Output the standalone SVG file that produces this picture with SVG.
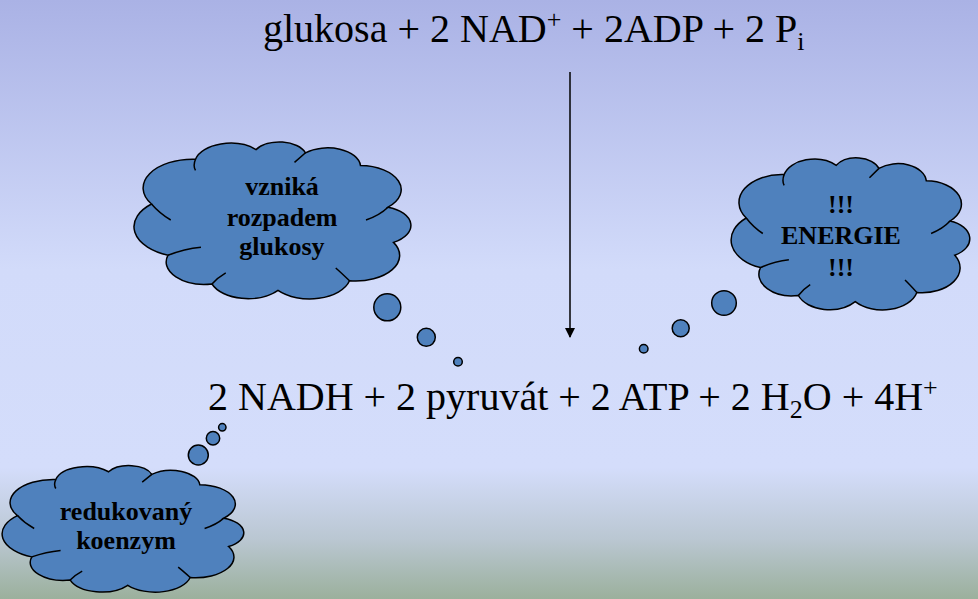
<svg xmlns="http://www.w3.org/2000/svg" xmlns:xlink="http://www.w3.org/1999/xlink" width="978" height="599" viewBox="0 0 978 599">
<defs>
<linearGradient id="bg" x1="0" y1="0" x2="0" y2="1">
<stop offset="0" stop-color="#aab2e5"/>
<stop offset="0.45" stop-color="#d2dbfa"/>
<stop offset="0.78" stop-color="#d4ddfb"/>
<stop offset="0.9" stop-color="#bac7d2"/>
<stop offset="1" stop-color="#9bb09c"/>
</linearGradient>
<marker id="arr" markerWidth="10" markerHeight="10" refX="9" refY="5" orient="auto" markerUnits="userSpaceOnUse">
<path d="M0,0 L10,5 L0,10 Z" fill="#000"/>
</marker>
<g id="cloud">
<path class="cl" d="M6,40 A18,18 0 0 1 22,12 A13,13 0 0 1 44,6 A10,10 0 0 1 62,8 A12,12 0 0 1 82,16 A15,15 0 0 1 92,42 A12,12 0 0 1 94,64 A16,16 0 0 1 78,88 A15,15 0 0 1 52,94 A14,14 0 0 1 28,90 A14,14 0 0 1 12,72 A19,19 0 0 1 6,40 Z"/>
<path class="cli" d="M6,40 Q9,46 13,50 M22,12 Q21,16 22,19 M62,8 Q60,11 58,14 M92,42 Q89,47 84,50 M78,88 Q75,83 73,80 M28,90 Q30,86 33,83 M12,72 Q18,68 24,67"/>
</g>
<style>
.cl{fill:#4f81bd;stroke:#000;stroke-width:1.5;vector-effect:non-scaling-stroke}
.cli{fill:none;stroke:#000;stroke-width:1.5;vector-effect:non-scaling-stroke}
.bub{fill:#4f81bd;stroke:#000;stroke-width:1.5}
.eq{font-family:'Liberation Serif',serif;font-size:40px;fill:#000}
.ct{font-family:'Liberation Serif',serif;font-size:26px;font-weight:bold;fill:#000;text-anchor:middle}
</style>
</defs>
<rect width="978" height="599" fill="url(#bg)"/>
<g id="connectors">
<line x1="570" y1="72" x2="570" y2="337" stroke="#000" stroke-width="1.5" marker-end="url(#arr)"/>
</g>
<g id="eq-top">
<text class="eq" x="263" y="42">glukosa + 2 NAD<tspan font-size="26" dy="-14">+</tspan><tspan dy="14"> + 2ADP + 2 P</tspan><tspan font-size="26" dy="8">i</tspan></text>
</g>
<g id="eq-bottom">
<text class="eq" x="208" y="410">2 NADH + 2 pyruvát + 2 ATP + 2 H<tspan font-size="26" dy="8">2</tspan><tspan dy="-8">O + 4H</tspan><tspan font-size="26" dy="-14">+</tspan></text>
</g>
<g id="cloud1">
<use xlink:href="#cloud" transform="translate(135,140) scale(2.75,1.6)"/>
<circle class="bub" cx="387.3" cy="307.3" r="13.5"/>
<circle class="bub" cx="426.3" cy="337.3" r="9"/>
<circle class="bub" cx="458" cy="361.7" r="4.3"/>
<text class="ct" x="282" y="195">vzniká</text>
<text class="ct" x="282" y="226">rozpadem</text>
<text class="ct" x="282" y="255">glukosy</text>
</g>
<g id="cloud2">
<use xlink:href="#cloud" transform="translate(732,156) scale(2.37,1.55)"/>
<circle class="bub" cx="724" cy="303" r="12.3"/>
<circle class="bub" cx="680.7" cy="328.3" r="8.5"/>
<circle class="bub" cx="643.7" cy="348.7" r="4.3"/>
<text class="ct" x="841" y="213">!!!</text>
<text class="ct" x="841" y="244">ENERGIE</text>
<text class="ct" x="841" y="276">!!!</text>
</g>
<g id="cloud3">
<use xlink:href="#cloud" transform="translate(3,464) scale(2.4,1.29)"/>
<circle class="bub" cx="198.3" cy="455" r="10"/>
<circle class="bub" cx="213" cy="438.3" r="6.7"/>
<circle class="bub" cx="222.3" cy="427.3" r="3.7"/>
<text class="ct" x="126" y="520">redukovaný</text>
<text class="ct" x="126" y="549">koenzym</text>
</g>
</svg>
